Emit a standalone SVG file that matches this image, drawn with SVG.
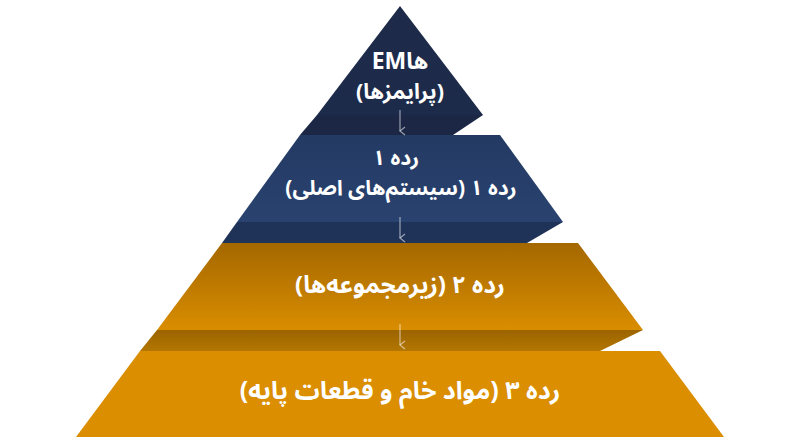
<svg xmlns="http://www.w3.org/2000/svg" width="800" height="447" viewBox="0 0 800 447">
  <defs>
    <linearGradient id="gNavyTop" x1="0" y1="0" x2="0" y2="1">
      <stop offset="0" stop-color="#1e2a48"/>
      <stop offset="1" stop-color="#1d2b4b"/>
    </linearGradient>
    <linearGradient id="gNavy" x1="0" y1="0" x2="0" y2="1">
      <stop offset="0" stop-color="#233a63"/>
      <stop offset="1" stop-color="#29426f"/>
    </linearGradient>
    <linearGradient id="gGold" x1="0" y1="0" x2="0" y2="1">
      <stop offset="0" stop-color="#a46800"/>
      <stop offset="1" stop-color="#d98d00"/>
    </linearGradient>
    <linearGradient id="gBandGold" x1="0" y1="0" x2="0" y2="1">
      <stop offset="0" stop-color="#9c6400"/>
      <stop offset="1" stop-color="#b27600"/>
    </linearGradient>
    <marker id="arr" viewBox="0 0 10 10" refX="5" refY="9" markerWidth="10" markerHeight="10" markerUnits="userSpaceOnUse" orient="auto-start-reverse">
      <path d="M1,4 L5,9 L9,4" fill="none" stroke="#ffffff" stroke-opacity="0.55" stroke-width="1.2"/>
    </marker>
    <style>
      .t { font-family: "Noto Sans Arabic", "Noto Naskh Arabic", "DejaVu Sans", sans-serif; font-weight: bold; font-size: 22px; fill: #ffffff; text-anchor: middle; }
      .rtl { direction: rtl; unicode-bidi: embed; }
      .conn { stroke: #ffffff; stroke-opacity: 0.55; stroke-width: 1.2; fill: none; }
    </style>
  </defs>
  <rect width="800" height="447" fill="#ffffff"/>

  <g id="tier1">
    <polygon points="400,6 483,115 317,115" fill="url(#gNavyTop)"/>
    <text class="t" x="400" y="69" style="font-size:23px">EMها</text>
    <text class="t rtl" x="400" y="99" style="font-size:21.5px">(پرایمزها)</text>
  </g>

  <g id="tier2">
    <polygon points="317,115 483,115 453,135 300,135" fill="#1b2745"/>
    <polygon points="300,135 500,135 563,222 237,222" fill="url(#gNavy)"/>
    <text class="t rtl" x="396" y="165" style="font-size:21px">رده ۱</text>
    <text class="t rtl" x="401" y="195" style="font-size:21px">رده ۱ (سیستم‌های اصلی)</text>
  </g>

  <g id="tier3">
    <polygon points="237,222 563,222 527,243 222,243" fill="#1f3358"/>
    <polygon points="222,243 578,243 643,330 157,330" fill="url(#gGold)"/>
    <text class="t rtl" x="400" y="293" style="font-size:24px">رده ۲ (زیرمجموعه‌ها)</text>
  </g>

  <g id="tier4">
    <polygon points="157,330 643,330 600,351 140,351" fill="url(#gBandGold)"/>
    <polygon points="140,351 660,351 724,437 76,437" fill="#da8e00"/>
    <text class="t rtl" x="400" y="399" style="font-size:25px">رده ۳ (مواد خام و قطعات پایه)</text>
  </g>

  <g id="connectors">
    <line class="conn" x1="400" y1="110" x2="400" y2="131" marker-end="url(#arr)"/>
    <line class="conn" x1="400" y1="217" x2="400" y2="238" marker-end="url(#arr)"/>
    <line class="conn" x1="400" y1="324" x2="400" y2="345" marker-end="url(#arr)"/>
  </g>
</svg>
